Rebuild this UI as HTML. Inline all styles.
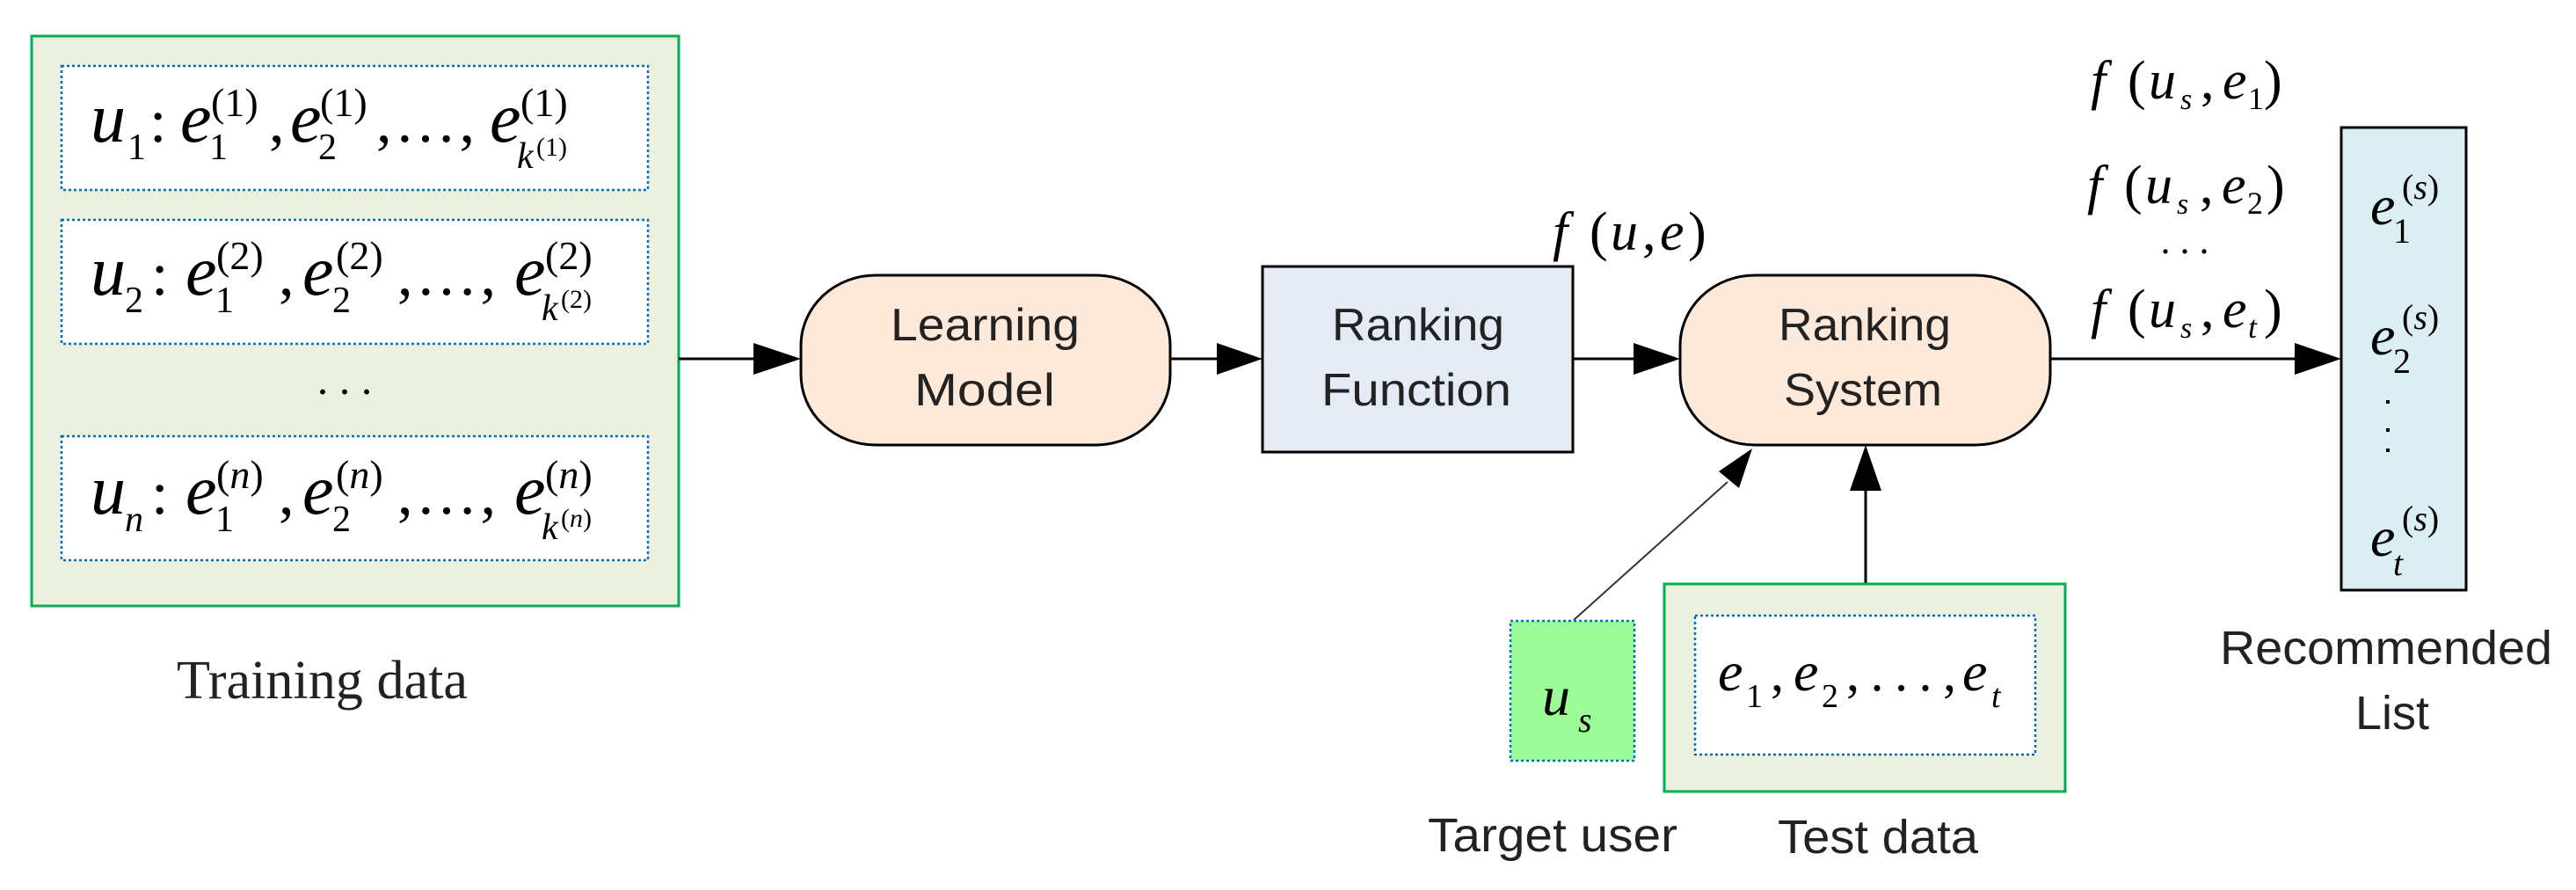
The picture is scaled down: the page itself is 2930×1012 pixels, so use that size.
<!DOCTYPE html>
<html><head><meta charset="utf-8"><style>
html,body{margin:0;padding:0;background:#fff;}
svg{display:block;}
.m{font-family:"Liberation Serif",serif;font-style:italic;}
.r{font-family:"Liberation Serif",serif;}
.s{font-family:"Liberation Sans",sans-serif;fill:#222;}
</style></head><body>
<svg width="2930" height="1012" viewBox="0 0 2930 1012" xmlns="http://www.w3.org/2000/svg">
<!-- Training data -->
<rect x="36" y="41" width="736" height="648" fill="#ebf1de" stroke="#00b050" stroke-width="3"/>
<g fill="#fff" stroke="#0070c0" stroke-width="2.5" stroke-dasharray="3 3">
<rect x="70" y="75" width="667" height="141"/>
<rect x="70" y="250" width="667" height="141"/>
<rect x="70" y="496" width="667" height="141"/>
</g>
<!-- row 1 -->
<g class="m" fill="#000">
<text x="103" y="161" font-size="80">u</text>
<text x="145" y="181" font-size="42" class="r" font-style="normal">1</text>
<text x="170" y="161" font-size="70" class="r" font-style="normal">:</text>
<text x="205" y="161" font-size="80">e</text>
<text x="240" y="132" font-size="46" class="r" font-style="normal">(1)</text>
<text x="238" y="181" font-size="42" class="r" font-style="normal">1</text>
<text x="306" y="161" font-size="70" class="r" font-style="normal">,</text>
<text x="330" y="161" font-size="80">e</text>
<text x="364" y="132" font-size="46" class="r" font-style="normal">(1)</text>
<text x="362" y="181" font-size="42" class="r" font-style="normal">2</text>
<text x="428" y="161" font-size="70" class="r" font-style="normal" textLength="112" lengthAdjust="spacing">, . . . ,</text>
<text x="557" y="161" font-size="80">e</text>
<text x="592" y="132" font-size="46" class="r" font-style="normal">(1)</text>
<text x="588" y="191" font-size="42">k</text>
<text x="610" y="177" font-size="30" class="r" font-style="normal">(1)</text>
</g>
<!-- row 2 -->
<g class="m" fill="#000">
<text x="103" y="335" font-size="80">u</text>
<text x="142" y="355" font-size="42" class="r" font-style="normal">2</text>
<text x="172" y="335" font-size="70" class="r" font-style="normal">:</text>
<text x="211" y="335" font-size="80">e</text>
<text x="246" y="306" font-size="46" class="r" font-style="normal">(2)</text>
<text x="245" y="355" font-size="42" class="r" font-style="normal">1</text>
<text x="317" y="335" font-size="70" class="r" font-style="normal">,</text>
<text x="344" y="335" font-size="80">e</text>
<text x="382" y="306" font-size="46" class="r" font-style="normal">(2)</text>
<text x="378" y="355" font-size="42" class="r" font-style="normal">2</text>
<text x="452" y="335" font-size="70" class="r" font-style="normal" textLength="112" lengthAdjust="spacing">, . . . ,</text>
<text x="585" y="335" font-size="80">e</text>
<text x="620" y="306" font-size="46" class="r" font-style="normal">(2)</text>
<text x="616" y="364" font-size="42">k</text>
<text x="638" y="350" font-size="30" class="r" font-style="normal">(2)</text>
</g>
<text x="392" y="448" font-size="50" class="r" text-anchor="middle" fill="#000">. . .</text>
<!-- row n -->
<g class="m" fill="#000">
<text x="103" y="584" font-size="80">u</text>
<text x="142" y="604" font-size="42">n</text>
<text x="172" y="584" font-size="70" class="r" font-style="normal">:</text>
<text x="211" y="584" font-size="80">e</text>
<text x="246" y="555" font-size="46" class="r" font-style="normal">(<tspan font-style="italic">n</tspan>)</text>
<text x="245" y="604" font-size="42" class="r" font-style="normal">1</text>
<text x="317" y="584" font-size="70" class="r" font-style="normal">,</text>
<text x="344" y="584" font-size="80">e</text>
<text x="382" y="555" font-size="46" class="r" font-style="normal">(<tspan font-style="italic">n</tspan>)</text>
<text x="378" y="604" font-size="42" class="r" font-style="normal">2</text>
<text x="452" y="584" font-size="70" class="r" font-style="normal" textLength="112" lengthAdjust="spacing">, . . . ,</text>
<text x="585" y="584" font-size="80">e</text>
<text x="620" y="555" font-size="46" class="r" font-style="normal">(<tspan font-style="italic">n</tspan>)</text>
<text x="616" y="613" font-size="42">k</text>
<text x="638" y="599" font-size="30" class="r" font-style="normal">(<tspan font-style="italic">n</tspan>)</text>
</g>
<text x="201" y="794" font-size="62" class="r" fill="#222" textLength="331" lengthAdjust="spacingAndGlyphs">Training data</text>

<!-- arrows -->
<g stroke="#000" stroke-width="3">
<line x1="772" y1="408" x2="860" y2="408"/>
<line x1="1331" y1="408" x2="1390" y2="408"/>
<line x1="1789" y1="408" x2="1862" y2="408"/>
<line x1="2332" y1="408" x2="2616" y2="408"/>
<line x1="2122" y1="664" x2="2122" y2="555"/>
</g>
<line x1="1790" y1="705" x2="1965" y2="548" stroke="#333" stroke-width="2"/>
<g fill="#000">
<polygon points="857,390 911,408 857,426"/>
<polygon points="1384,390 1436,408 1384,426"/>
<polygon points="1858,390 1911,408 1858,426"/>
<polygon points="2610,390 2663,408 2610,426"/>
<polygon points="2104,558 2122,506 2140,558"/>
<polygon points="1955,536 1993,510 1978,555"/>
</g>

<!-- Learning Model -->
<rect x="911" y="313" width="420" height="193" rx="85" ry="80" fill="#fde9d9" stroke="#000" stroke-width="3"/>
<text x="1013" y="387" font-size="52" class="s" textLength="215" lengthAdjust="spacingAndGlyphs">Learning</text>
<text x="1040" y="461" font-size="52" class="s" textLength="160" lengthAdjust="spacingAndGlyphs">Model</text>

<!-- Ranking Function -->
<rect x="1436" y="303" width="353" height="211" fill="#e4ebf5" stroke="#000" stroke-width="3"/>
<text x="1515" y="387" font-size="52" class="s" textLength="196" lengthAdjust="spacingAndGlyphs">Ranking</text>
<text x="1503" y="461" font-size="52" class="s" textLength="216" lengthAdjust="spacingAndGlyphs">Function</text>

<!-- f(u,e) -->
<g class="m" fill="#000">
<text x="1766" y="284" font-size="62">f</text>
<text x="1808" y="284" font-size="62" class="r" font-style="normal">(</text>
<text x="1832" y="284" font-size="62">u</text>
<text x="1868" y="284" font-size="62" class="r" font-style="normal">,</text>
<text x="1888" y="284" font-size="62">e</text>
<text x="1920" y="284" font-size="62" class="r" font-style="normal">)</text>
</g>

<!-- Ranking System -->
<rect x="1911" y="313" width="421" height="193" rx="85" ry="80" fill="#fde9d9" stroke="#000" stroke-width="3"/>
<text x="2023" y="387" font-size="52" class="s" textLength="196" lengthAdjust="spacingAndGlyphs">Ranking</text>
<text x="2029" y="461" font-size="52" class="s" textLength="180" lengthAdjust="spacingAndGlyphs">System</text>

<!-- f(us,ei) labels -->
<g class="m" fill="#000">
<g>
<text x="2378" y="112" font-size="62">f</text>
<text x="2420" y="112" font-size="62" class="r" font-style="normal">(</text>
<text x="2444" y="112" font-size="62">u</text>
<text x="2480" y="124" font-size="34">s</text>
<text x="2503" y="112" font-size="62" class="r" font-style="normal">,</text>
<text x="2528" y="112" font-size="62">e</text>
<text x="2557" y="124" font-size="36" class="r" font-style="normal">1</text>
<text x="2575" y="112" font-size="62" class="r" font-style="normal">)</text>
</g>
<g>
<text x="2374" y="231" font-size="62">f</text>
<text x="2416" y="231" font-size="62" class="r" font-style="normal">(</text>
<text x="2440" y="231" font-size="62">u</text>
<text x="2476" y="243" font-size="34">s</text>
<text x="2502" y="231" font-size="62" class="r" font-style="normal">,</text>
<text x="2527" y="231" font-size="62">e</text>
<text x="2556" y="243" font-size="36" class="r" font-style="normal">2</text>
<text x="2578" y="231" font-size="62" class="r" font-style="normal">)</text>
</g>
<text x="2485" y="288" font-size="44" class="r" font-style="normal" text-anchor="middle">. . .</text>
<g>
<text x="2378" y="372" font-size="62">f</text>
<text x="2420" y="372" font-size="62" class="r" font-style="normal">(</text>
<text x="2444" y="372" font-size="62">u</text>
<text x="2480" y="384" font-size="34">s</text>
<text x="2503" y="372" font-size="62" class="r" font-style="normal">,</text>
<text x="2528" y="372" font-size="62">e</text>
<text x="2557" y="384" font-size="36">t</text>
<text x="2575" y="372" font-size="62" class="r" font-style="normal">)</text>
</g>
</g>

<!-- Recommended list -->
<rect x="2663" y="145" width="142" height="526" fill="#daeef3" stroke="#000" stroke-width="3"/>
<g class="m" fill="#000">
<text x="2696" y="255" font-size="64">e</text>
<text x="2732" y="226" font-size="40" class="r" font-style="normal">(<tspan font-style="italic">s</tspan>)</text>
<text x="2722" y="276" font-size="40" class="r" font-style="normal">1</text>
<text x="2696" y="403" font-size="64">e</text>
<text x="2732" y="374" font-size="40" class="r" font-style="normal">(<tspan font-style="italic">s</tspan>)</text>
<text x="2722" y="424" font-size="40" class="r" font-style="normal">2</text>
<text x="2696" y="632" font-size="64">e</text>
<text x="2732" y="603" font-size="40" class="r" font-style="normal">(<tspan font-style="italic">s</tspan>)</text>
<text x="2722" y="654" font-size="40">t</text>
</g>
<g fill="#000">
<rect x="2714" y="455" width="4" height="4"/>
<rect x="2714" y="487" width="4" height="4"/>
<rect x="2714" y="510" width="4" height="4"/>
</g>
<text x="2714" y="755" font-size="54" class="s" text-anchor="middle" textLength="378" lengthAdjust="spacingAndGlyphs">Recommended</text>
<text x="2721" y="829" font-size="54" class="s" text-anchor="middle" textLength="84" lengthAdjust="spacingAndGlyphs">List</text>

<!-- Target user -->
<rect x="1718" y="706" width="141" height="159" fill="#9cfc98" stroke="#0070c0" stroke-width="2.5" stroke-dasharray="3 3"/>
<text x="1754" y="813" font-size="64" class="m" fill="#000">u</text>
<text x="1795" y="832" font-size="40" class="m" fill="#000">s</text>
<text x="1766" y="968" font-size="54" class="s" text-anchor="middle" textLength="284" lengthAdjust="spacingAndGlyphs">Target user</text>

<!-- Test data -->
<rect x="1893" y="664" width="456" height="236" fill="#ebf1de" stroke="#00b050" stroke-width="3"/>
<rect x="1928" y="700" width="387" height="158" fill="#fff" stroke="#0070c0" stroke-width="2.5" stroke-dasharray="3 3"/>
<g class="m" fill="#000">
<text x="1954" y="785" font-size="64">e</text>
<text x="1986" y="804" font-size="38" class="r" font-style="normal">1</text>
<text x="2014" y="785" font-size="60" class="r" font-style="normal">,</text>
<text x="2040" y="785" font-size="64">e</text>
<text x="2072" y="804" font-size="38" class="r" font-style="normal">2</text>
<text x="2100" y="785" font-size="60" class="r" font-style="normal" textLength="125" lengthAdjust="spacing">, . . . ,</text>
<text x="2232" y="785" font-size="64">e</text>
<text x="2265" y="804" font-size="38">t</text>
</g>
<text x="2136" y="970" font-size="54" class="s" text-anchor="middle" textLength="228" lengthAdjust="spacingAndGlyphs">Test data</text>
</svg>
</body></html>
